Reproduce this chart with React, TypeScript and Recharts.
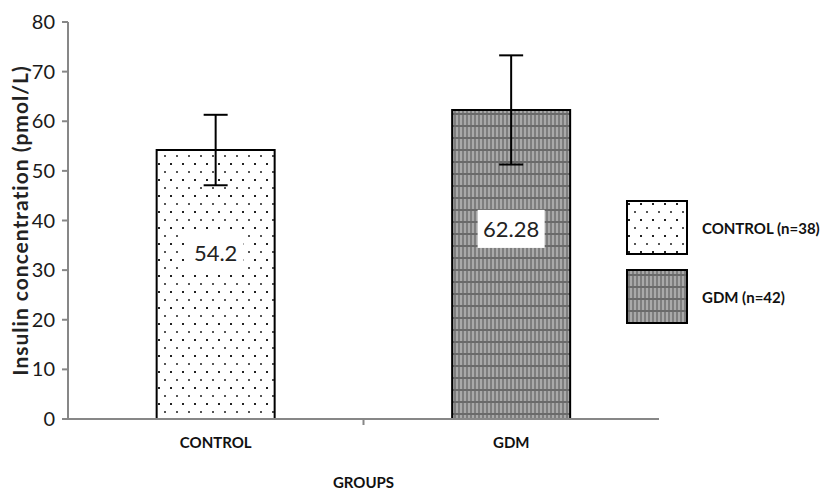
import { BarChart, Bar, XAxis, YAxis, ErrorBar, Cell, LabelList } from 'recharts';

const groups = ['CONTROL', 'GDM'];
const means = [54.2, 62.28];
const errors = [7.1, 11.0];
const legendLabels = ['CONTROL (n=38)', 'GDM (n=42)'];
const yTicks = [0, 10, 20, 30, 40, 50, 60, 70, 80];
const fills = ['url(#dots)', 'url(#checks)'];

const FONT = 'Lato, "Open Sans", sans-serif';
const AXIS = '#878787';

const chartData = groups.map((group, i) => ({
    group,
    mean: means[i],
    err: errors[i],
}));

const GroupTick = ({ x, y, payload, index }: any) => {
    const half = payload && payload.offset ? payload.offset : 0;
    return (
        <g>
            {index === 0 && half > 0 && (
                <line x1={x + half} x2={x + half} y1={y - 18} y2={y - 12} stroke={AXIS} strokeWidth={2} />
            )}
            <text x={x} y={y} dy="0.71em" textAnchor="middle" fontFamily={FONT} fontWeight={700} fontSize={15} fill="#111">
                {payload.value}
            </text>
        </g>
    );
};

const ValueLabel = ({ x, y, width, height, value }: any) => {
    const cx = x + width / 2;
    const cy = y + height * 0.385;
    const text = String(value);
    const w = text.length * 11 + 12;
    return (
        <g>
            <rect x={cx - w / 2} y={cy - 19} width={w} height={38} fill="#fff" />
            <text x={cx} y={cy} dy="0.35em" textAnchor="middle" fontFamily={FONT} fontSize={22} fill="#222">
                {text}
            </text>
        </g>
    );
};

const App = () => {
    return (
        <div style={{ position: 'absolute', left: 0, top: 0, width: 829, height: 492, background: '#fff' }}>
            <BarChart
                width={829}
                height={492}
                data={chartData}
                margin={{ top: 22, right: 170, left: 0, bottom: 0 }}
                barCategoryGap="30%"
            >
                <defs>
                    <pattern id="dots" width="12" height="16" patternUnits="userSpaceOnUse">
                        <rect width="12" height="16" fill="#fff" />
                        <rect x="2" y="3" width="2" height="2" fill="#222" />
                        <rect x="8" y="11" width="2" height="2" fill="#555" />
                    </pattern>
                    <pattern id="checks" width="4" height="12" patternUnits="userSpaceOnUse">
                        <rect width="4" height="12" fill="#7e7e7e" />
                        <rect x="0" y="0" width="2" height="12" fill="#a9a9a9" />
                        <rect x="0" y="5" width="4" height="2" fill="#6a6a6a" />
                    </pattern>
                </defs>
                <XAxis
                    dataKey="group"
                    height={73}
                    axisLine={{ stroke: AXIS, strokeWidth: 2 }}
                    tickLine={false}
                    tickSize={6}
                    tickMargin={12}
                    tick={<GroupTick />}
                    label={{
                        value: 'GROUPS',
                        position: 'insideBottom',
                        offset: 4,
                        style: { fontFamily: FONT, fontWeight: 700, fontSize: 15, fill: '#111' },
                    }}
                />
                <YAxis
                    width={68}
                    domain={[0, 80]}
                    ticks={yTicks}
                    interval={0}
                    axisLine={{ stroke: AXIS, strokeWidth: 2 }}
                    tickLine={{ stroke: AXIS, strokeWidth: 2 }}
                    tickSize={6}
                    tickMargin={7}
                    tick={{ fontFamily: FONT, fontSize: 20, fill: '#1a1a1a' }}
                    label={{
                        value: 'Insulin concentration (pmol/L)',
                        angle: -90,
                        position: 'insideLeft',
                        offset: 21,
                        style: { fontFamily: FONT, fontWeight: 700, fontSize: 21, letterSpacing: 1, fill: '#222', textAnchor: 'middle' },
                    }}
                />
                <Bar dataKey="mean" stroke="#000" strokeWidth={2} isAnimationActive={false}>
                    {chartData.map((d, i) => (
                        <Cell key={d.group} fill={fills[i]} />
                    ))}
                    <LabelList dataKey="mean" content={<ValueLabel />} />
                    <ErrorBar dataKey="err" width={12} stroke="#000" strokeWidth={2} />
                </Bar>
            </BarChart>
            {legendLabels.map((label, i) => (
                <div
                    key={label}
                    style={{
                        position: 'absolute',
                        left: 626,
                        top: 200 + i * 69,
                        display: 'flex',
                        alignItems: 'center',
                        fontFamily: FONT,
                        fontWeight: 700,
                        fontSize: 15,
                        color: '#111',
                    }}
                >
                    <svg width={62} height={55} style={{ display: 'block' }}>
                        <rect x={1} y={1} width={60} height={53} fill={fills[i]} stroke="#000" strokeWidth={2} />
                    </svg>
                    <span style={{ marginLeft: 14, whiteSpace: 'nowrap' }}>{label}</span>
                </div>
            ))}
        </div>
    );
};

export default App;
